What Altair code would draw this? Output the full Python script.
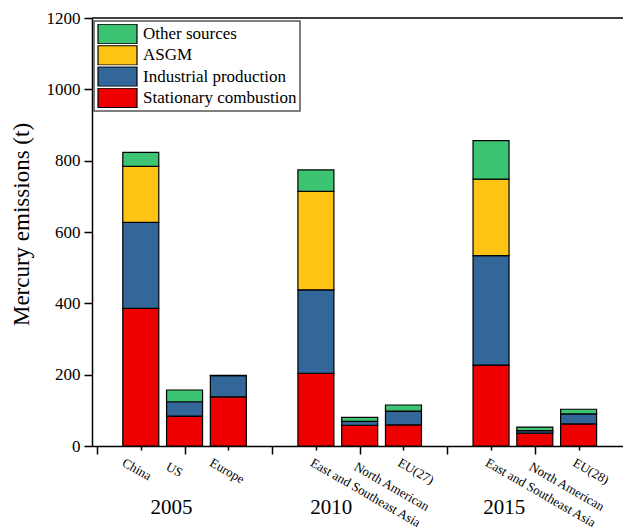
import altair as alt
import pandas as pd

# ---- data ----
regions = ["China", "US", "Europe",
           "East and Southeast Asia", "North American", "EU(27)",
           "East and Southeast Asia", "North American", "EU(28)"]
slots = [1, 2, 3, 5, 6, 7, 9, 10, 11]
stationary = [386, 84, 138, 204, 58, 59, 227, 36, 62]
industrial = [241, 40, 59, 234, 11, 39, 307, 7, 28]
asgm = [157, 0, 0, 276, 0, 0, 214, 0, 0]
other = [39, 33, 1, 60, 11, 17, 108, 10, 13]
sources = ["Stationary combustion", "Industrial production", "ASGM", "Other sources"]
colors = ["#EE0000", "#336699", "#FEC414", "#3DC473"]
years = ["2005", "2010", "2015"]
year_slots = [1.7, 5.35, 9.3]

FONT = "Times New Roman, Liberation Serif, DejaVu Serif, serif"

rows = []
series = [stationary, industrial, asgm, other]
for i, (p, r) in enumerate(zip(slots, regions)):
    for k, s in enumerate(sources):
        v = series[k][i]
        if v > 0:
            rows.append({"pos": p, "region": r, "source": s, "value": v, "order": k})
df = pd.DataFrame(rows)

label_arr = [""] * 12
for p, r in zip(slots, regions):
    label_arr[p] = r
label_expr = "[" + ",".join("'" + s + "'" for s in label_arr) + "][datum.value]"

x_scale = alt.Scale(domain=[0, 11.9], nice=False, zero=False)
y_scale = alt.Scale(domain=[0, 1200], nice=False)

bars = alt.Chart(df).mark_bar(size=36, stroke="black", strokeWidth=1.2).encode(
    x=alt.X("pos:Q", scale=x_scale,
            axis=alt.Axis(values=list(range(0, 12)), labelExpr=label_expr,
                          labelAngle=30, labelAlign="left", labelBaseline="top",
                          labelOffset={"condition": {"test": "datum.value <= 3", "value": -15}, "value": -2},
                          labelPadding=6,
                          labelFont=FONT, labelFontSize=13, labelColor="black",
                          tickSize={"condition": {"test": "datum.value % 2 === 0", "value": 8}, "value": 4},
                          tickColor="black", tickWidth=1.5,
                          domainColor="black", domainWidth=1.5,
                          grid=False, title=None, labelOverlap=False, labelFlush=False)),
    y=alt.Y("value:Q", stack="zero", scale=y_scale,
            axis=alt.Axis(values=list(range(0, 1201, 100)),
                          labelExpr="datum.value % 200 === 0 ? datum.label : ''",
                          format="d",
                          labelFont=FONT, labelFontSize=17, labelColor="black",
                          labelPadding=4,
                          tickSize={"condition": {"test": "datum.value % 200 === 0", "value": 8}, "value": 4},
                          tickColor="black", tickWidth=1.5,
                          domainColor="black", domainWidth=1.5, grid=False,
                          title="Mercury emissions (t)", titleFont=FONT, titleFontSize=23,
                          titleFontWeight="normal", titleColor="black",
                          titleX=-71, titleY=206, titleBaseline="middle", titleAlign="center")),
    color=alt.Color("source:N",
                    scale=alt.Scale(domain=sources[::-1], range=colors[::-1]),
                    legend=alt.Legend(orient="none", legendX=2, legendY=3, title=None,
                                      symbolType="M-1,-0.5H1V0.5H-1Z", symbolSize=1521,
                                      symbolStrokeColor="black", symbolStrokeWidth=1.2,
                                      symbolOpacity=1,
                                      labelFont=FONT, labelFontSize=17, labelColor="black",
                                      labelOffset=5, clipHeight=20, rowPadding=1.3,
                                      padding=3, strokeColor="#555555", fillColor="white")),
    order=alt.Order("order:Q"),
)

top_rule = alt.Chart(pd.DataFrame({"y": [1200]})).mark_rule(color="black", strokeWidth=1.5).encode(
    y=alt.Y("y:Q", scale=y_scale)
)

year_df = pd.DataFrame({"year": years, "pos": year_slots})
year_text = alt.Chart(year_df).mark_text(font=FONT, fontSize=21, color="black",
                                         baseline="alphabetic", align="center").encode(
    x=alt.X("pos:Q", scale=x_scale),
    y=alt.value(496),
    text="year:N",
)

chart = alt.layer(bars, top_rule, year_text).properties(
    width=531, height=428,
    autosize=alt.AutoSizeParams(type="none"),
    padding={"left": 92, "top": 18, "right": 0, "bottom": 85},
).configure_view(stroke=None).configure_legend(strokeWidth=1.5)

chart.save("out.html", embed_options={"renderer": "svg", "actions": False})
